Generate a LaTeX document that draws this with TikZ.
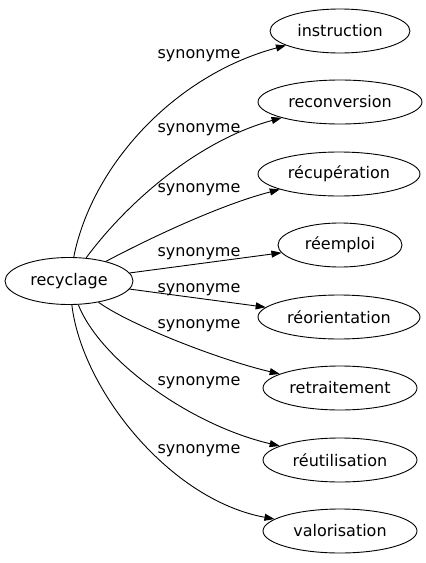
\documentclass[tikz,border=0pt]{standalone}
\usepackage{fontspec}
\setmainfont{DejaVu Sans}
\usetikzlibrary{shapes.geometric,arrows.meta}
\begin{document}
\begin{tikzpicture}[x=1pt,y=-1pt,
  word/.style={draw, ellipse, line width=0.9pt, inner sep=0pt, minimum height=44pt, font=\fontsize{16}{19}\selectfont},
  rel/.style={anchor=base, inner sep=0pt, font=\fontsize{16}{19}\selectfont},
  link/.style={line width=0.9pt, -{Triangle[length=10pt,width=7pt]}}]
\useasboundingbox (0,0) rectangle (426,563);
\node[word, minimum width=128pt, minimum height=47pt] (rec) at (69,281) {recyclage};
\node[word, minimum width=140pt] (ins) at (340,31) {instruction};
\node[word, minimum width=164pt] (rcv) at (340,102) {reconversion};
\node[word, minimum width=162pt] (rcp) at (339,174) {récupération};
\node[word, minimum width=124pt] (ree) at (340,245) {réemploi};
\node[word, minimum width=162pt] (reo) at (339,317) {réorientation};
\node[word, minimum width=154pt] (ret) at (340,388) {retraitement};
\node[word, minimum width=154pt] (reu) at (340,460) {réutilisation};
\node[word, minimum width=154pt] (val) at (340,531) {valorisation};

\draw[link] (rec) .. controls (92,165) and (175,75) .. (ins);
\draw[link] (rec) .. controls (129,200) and (200,140) .. (rcv);
\draw[link] (rec) .. controls (150,238) and (220,205) .. (rcp);
\draw[link] (rec) -- (ree);
\draw[link] (rec) -- (reo);
\draw[link] (rec) .. controls (130,325) and (220,360) .. (ret);
\draw[link] (rec) .. controls (100,360) and (190,425) .. (reu);
\draw[link] (rec) .. controls (82,390) and (170,500) .. (val);

\node[rel] (l1) at (199,58) {synonyme};
\node[rel] (l2) at (199,132) {synonyme};
\node[rel] (l3) at (199,192) {synonyme};
\node[rel] (l4) at (199,256) {synonyme};
\node[rel] (l5) at (199,292) {synonyme};
\node[rel] (l6) at (199,328) {synonyme};
\node[rel] (l7) at (199,385) {synonyme};
\node[rel] (l8) at (199,453) {synonyme};
\end{tikzpicture}
\end{document}
